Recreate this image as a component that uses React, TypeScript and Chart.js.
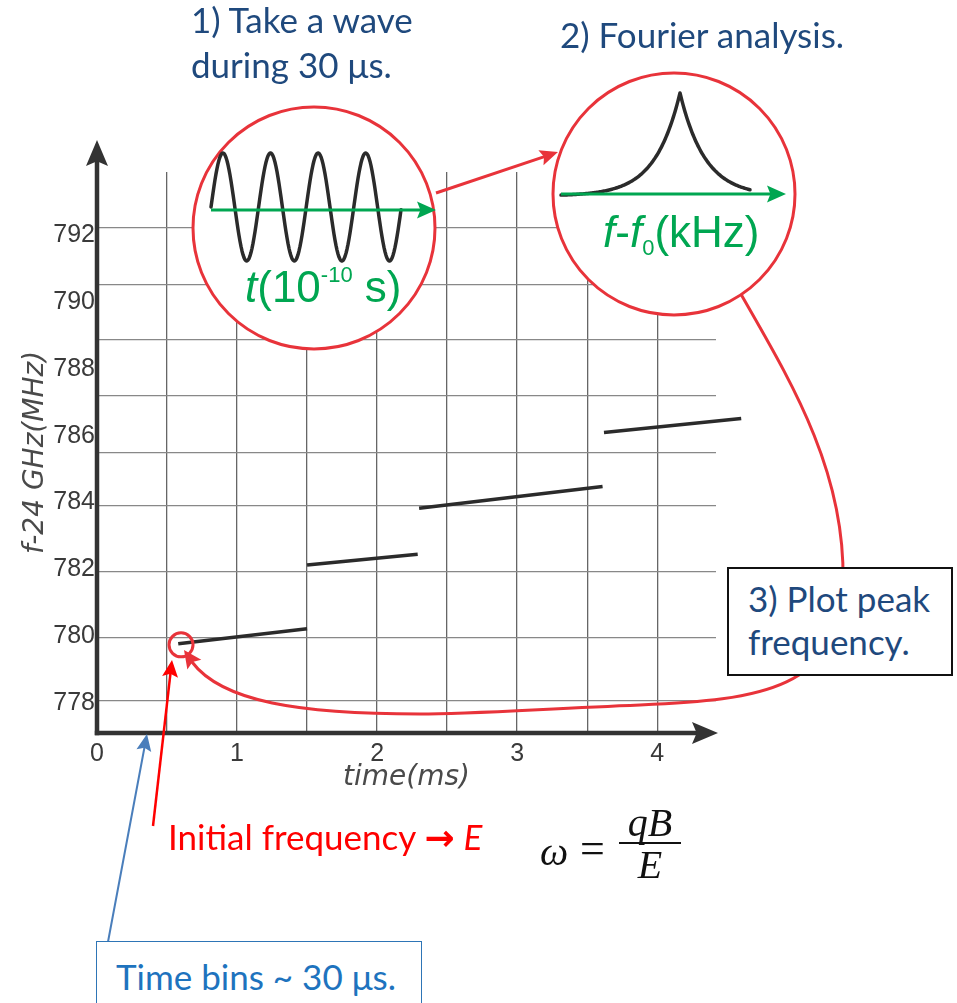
import React, { useEffect, useRef } from "react";
import { Chart, registerables } from "chart.js";

Chart.register(...registerables);

// ---- data ----
const timeGridTicks = [0, 0.5, 1, 1.5, 2, 2.5, 3, 3.5, 4]; // ms
const freqTickLabels = [778, 780, 782, 784, 786, 788, 790, 792]; // MHz
const freqGridLevels = [778.06, 779.95, 781.92, 783.9, 785.51, 787.19, 788.87, 790.54, 792.22];
const segStartTime = [0.58, 1.5, 2.3, 3.62];
const segEndTime = [1.5, 2.29, 3.61, 4.6];
const segStartFreq = [779.77, 782.13, 783.83, 786.1];
const segEndFreq = [780.22, 782.45, 784.48, 786.52];
const initialTime = 0.6;
const initialFreq = 779.74;

const RED = "#E8333A";
const GREEN = "#00A651";
const DARK = "#2b2b2b";
const NAVY = "#1F497D";

function arrowHead(ctx: CanvasRenderingContext2D, fx: number, fy: number, tx: number, ty: number, len: number, half: number, color: string) {
  const dx = tx - fx, dy = ty - fy;
  const d = Math.hypot(dx, dy);
  const ux = dx / d, uy = dy / d;
  const bx = tx - ux * len, by = ty - uy * len;
  const px = -uy, py = ux;
  ctx.beginPath();
  ctx.moveTo(tx, ty);
  ctx.lineTo(bx + px * half, by + py * half);
  ctx.lineTo(tx - ux * len * 0.82, ty - uy * len * 0.82);
  ctx.lineTo(bx - px * half, by - py * half);
  ctx.closePath();
  ctx.fillStyle = color;
  ctx.fill();
}

function arrowLine(ctx: CanvasRenderingContext2D, fx: number, fy: number, tx: number, ty: number, color: string, width: number, len: number, half: number) {
  const d = Math.hypot(tx - fx, ty - fy);
  const ux = (tx - fx) / d, uy = (ty - fy) / d;
  ctx.strokeStyle = color;
  ctx.lineWidth = width;
  ctx.beginPath();
  ctx.moveTo(fx, fy);
  ctx.lineTo(tx - ux * len * 0.75, ty - uy * len * 0.75);
  ctx.stroke();
  arrowHead(ctx, fx, fy, tx, ty, len, half, color);
}

const annotate = {
  id: "annotate",
  afterDatasetsDraw(chart: any) {
    const { ctx, chartArea: ca, scales } = chart;
    const xs = scales.x, ys = scales.y;
    ctx.save();
    ctx.lineCap = "round";
    ctx.lineJoin = "round";

    // red curve from Fourier circle to the initial point
    ctx.strokeStyle = RED;
    ctx.lineWidth = 3;
    ctx.beginPath();
    ctx.moveTo(742, 296);
    ctx.bezierCurveTo(790, 380, 845, 470, 843, 580);
    ctx.bezierCurveTo(843, 690, 760, 700, 640, 705);
    ctx.bezierCurveTo(540, 709, 470, 714, 420, 714);
    ctx.bezierCurveTo(300, 714, 222, 702, 192, 662);
    ctx.stroke();
    arrowHead(ctx, 205, 680, 184, 650, 18, 8.5, RED);

    // small circle on the initial frequency
    const cx = xs.getPixelForValue(initialTime);
    const cy = ys.getPixelForValue(initialFreq);
    ctx.beginPath();
    ctx.arc(cx, cy, 12, 0, Math.PI * 2);
    ctx.lineWidth = 3;
    ctx.strokeStyle = RED;
    ctx.stroke();

    // inset 1: wave
    ctx.beginPath();
    ctx.arc(314, 228, 121, 0, Math.PI * 2);
    ctx.fillStyle = "#ffffff";
    ctx.fill();
    ctx.lineWidth = 3;
    ctx.strokeStyle = RED;
    ctx.stroke();
    ctx.beginPath();
    for (let px = 211; px <= 401; px += 1) {
      const py = 207 - 54 * Math.sin((2 * Math.PI * (px - 211)) / 47.6);
      if (px === 211) ctx.moveTo(px, py); else ctx.lineTo(px, py);
    }
    ctx.strokeStyle = DARK;
    ctx.lineWidth = 3.5;
    ctx.stroke();
    ctx.lineCap = "butt";
    arrowLine(ctx, 211, 210, 436, 210, GREEN, 3, 19, 8.5);

    // inset 2: spectrum
    ctx.lineCap = "round";
    ctx.beginPath();
    ctx.arc(674, 194, 121, 0, Math.PI * 2);
    ctx.fillStyle = "#ffffff";
    ctx.fill();
    ctx.lineWidth = 3;
    ctx.strokeStyle = RED;
    ctx.stroke();
    ctx.beginPath();
    for (let px = 561; px <= 750; px += 1) {
      const py = 196 - 103 * Math.exp(-Math.abs(px - 680) / 25);
      if (px === 561) ctx.moveTo(px, py); else ctx.lineTo(px, py);
    }
    ctx.strokeStyle = DARK;
    ctx.lineWidth = 3.5;
    ctx.stroke();
    ctx.lineCap = "butt";
    arrowLine(ctx, 561, 194, 786, 194, GREEN, 3, 19, 8.5);

    // arrow between insets
    arrowLine(ctx, 436, 193, 558, 152, RED, 3, 18, 8);

    // axes with arrowheads
    ctx.lineCap = "butt";
    ctx.strokeStyle = "#333333";
    ctx.lineWidth = 4.5;
    ctx.beginPath();
    ctx.moveTo(ca.left, ca.bottom + 2.2);
    ctx.lineTo(ca.left, ca.top - 20);
    ctx.stroke();
    arrowHead(ctx, ca.left, ca.top, ca.left, ca.top - 32, 26, 11, "#333333");
    ctx.beginPath();
    ctx.moveTo(ca.left - 2.2, ca.bottom);
    ctx.lineTo(ca.right - 12, ca.bottom);
    ctx.stroke();
    arrowHead(ctx, ca.left, ca.bottom, ca.right + 2, ca.bottom, 26, 11, "#333333");

    // pointer arrows
    arrowLine(ctx, 153, 826, 172, 660, "#FF0000", 2.5, 17, 8);
    arrowLine(ctx, 108, 942, 147, 734, "#4A7EBB", 2, 17, 7.5);

    ctx.restore();
  },
};

const tickFont = { family: "'Liberation Sans', Arial, sans-serif", size: 25 };
const titleFont = { family: "'DejaVu Sans', sans-serif", style: "italic", size: 28, weight: "300" };

export default function App() {
  const ref = useRef<HTMLCanvasElement>(null);

  useEffect(() => {
    const datasets = segStartTime.map((t0, i) => ({
      label: `segment ${i + 1}`,
      data: [
        { x: t0, y: segStartFreq[i] },
        { x: segEndTime[i], y: segEndFreq[i] },
      ],
      showLine: true,
      borderColor: DARK,
      backgroundColor: DARK,
      borderWidth: 3.5,
      pointRadius: 0,
      clip: false as any,
    }));
    const chart = new Chart(ref.current as HTMLCanvasElement, {
      type: "scatter",
      data: { datasets },
      options: {
        animation: false,
        responsive: false,
        events: [],
        layout: { padding: { left: 0, top: 172, right: 241, bottom: 208 } },
        plugins: { legend: { display: false }, tooltip: { enabled: false } },
        scales: {
          x: {
            type: "linear",
            min: 0,
            max: 4.42,
            afterBuildTicks: (s: any) => {
              s.ticks = timeGridTicks.map((v) => ({ value: v }));
            },
            afterFit: (s: any) => {
              s.height = 62;
            },
            ticks: {
              autoSkip: false,
              maxRotation: 0,
              padding: 6,
              color: "#3a3a3a",
              font: tickFont,
              callback: (v: any) => (Number.isInteger(v) ? String(v) : ""),
            },
            grid: {
              drawTicks: false,
              lineWidth: 1.3,
              color: (c: any) => (c.tick && c.tick.value === 0 ? "rgba(0,0,0,0)" : "#666666"),
            },
            border: { display: false },
            title: {
              display: true,
              text: "time(ms)",
              color: "#4a4a4a",
              padding: 0,
              font: titleFont,
            },
          },
          y: {
            type: "linear",
            position: "left",
            min: 777.1,
            max: 793.9,
            afterBuildTicks: (s: any) => {
              s.ticks = freqTickLabels.map((v) => ({ value: v }));
            },
            afterFit: (s: any) => {
              s.width = 97;
            },
            ticks: { padding: 2, color: "#3a3a3a", font: tickFont },
            grid: { display: false, drawTicks: false },
            border: { display: false },
            title: {
              display: true,
              text: "f-24 GHz(MHz)",
              color: "#4a4a4a",
              padding: { top: 19, bottom: 0 },
              font: titleFont,
            },
          },
          yGrid: {
            type: "linear",
            position: "left",
            min: 777.1,
            max: 793.9,
            afterBuildTicks: (s: any) => {
              s.ticks = freqGridLevels.map((v) => ({ value: v }));
            },
            afterFit: (s: any) => {
              s.width = 0;
            },
            ticks: { display: false },
            grid: { drawTicks: false, color: "#888888", lineWidth: 1.3 },
            border: { display: false },
          },
        },
      } as any,
      plugins: [annotate as any],
    });
    return () => chart.destroy();
  }, []);

  const abs = (s: React.CSSProperties): React.CSSProperties => ({
    position: "absolute",
    whiteSpace: "nowrap",
    margin: 0,
    ...s,
  });
  const calibri = "Lato, 'Open Sans', sans-serif";
  const mathFont = "'Liberation Serif', 'DejaVu Serif', serif";

  return (
    <div style={{ position: "absolute", left: 0, top: 0, width: 957, height: 1003, overflow: "hidden", background: "#fff" }}>
      <canvas ref={ref} width={957} height={1003} style={{ position: "absolute", left: 0, top: 0, width: 957, height: 1003 }} />

      <div style={abs({ left: 191, top: -3, fontFamily: calibri, fontSize: 35, lineHeight: "45px", color: NAVY })}>
        1) Take a wave
        <br />
        during 30 μs.
      </div>
      <div style={abs({ left: 560, top: 12, fontFamily: calibri, fontSize: 35, lineHeight: "45px", color: NAVY })}>
        2) Fourier analysis.
      </div>

      <div style={abs({ left: 245, top: 264, fontFamily: "'Liberation Sans', Arial, sans-serif", fontSize: 44, lineHeight: "46px", color: GREEN })}>
        <i>t</i>(10<span style={{ fontSize: 22, position: "relative", top: -20 }}>-10</span> s)
      </div>
      <div style={abs({ left: 603, top: 209, fontFamily: "'Liberation Sans', Arial, sans-serif", fontSize: 44, lineHeight: "46px", color: GREEN })}>
        <i>f</i>-<i>f</i>
        <span style={{ fontSize: 22, position: "relative", top: 8 }}>0</span>(kHz)
      </div>

      <div
        style={abs({
          left: 727,
          top: 567,
          width: 226,
          height: 109,
          boxSizing: "border-box",
          border: "2px solid #111",
          background: "#fff",
          padding: "8px 0 0 19px",
          fontFamily: calibri,
          fontSize: 35,
          lineHeight: "43px",
          color: NAVY,
        })}
      >
        3) Plot peak
        <br />
        frequency.
      </div>

      <div style={abs({ left: 168, top: 815, fontFamily: calibri, fontSize: 35, lineHeight: "42px", color: "#FF0000" })}>
        Initial frequency{" "}
        <span style={{ fontFamily: "'DejaVu Sans', sans-serif", fontWeight: "bold", fontSize: 36 }}>→</span> <i>E</i>
      </div>

      <div style={abs({ left: 540, top: 832, fontFamily: mathFont, fontStyle: "italic", fontSize: 40, lineHeight: "40px", color: "#111" })}>ω</div>
      <div style={abs({ left: 580, top: 827, fontFamily: mathFont, fontSize: 44, lineHeight: "44px", color: "#111" })}>=</div>
      <div style={abs({ left: 618, top: 803, width: 64, textAlign: "center", fontFamily: mathFont, fontStyle: "italic", fontSize: 40, lineHeight: "40px", color: "#111" })}>qB</div>
      <div style={abs({ left: 619, top: 842, width: 62, height: 2, background: "#111" })} />
      <div style={abs({ left: 618, top: 845, width: 64, textAlign: "center", fontFamily: mathFont, fontStyle: "italic", fontSize: 40, lineHeight: "40px", color: "#111" })}>E</div>

      <div
        style={abs({
          left: 96,
          top: 941,
          width: 326,
          height: 90,
          boxSizing: "border-box",
          border: "1.5px solid #2E75B6",
          background: "#fff",
          padding: "13px 0 0 19px",
          fontFamily: calibri,
          fontSize: 35,
          lineHeight: "42px",
          color: "#1E73BE",
        })}
      >
        Time bins ~ 30 μs.
      </div>
    </div>
  );
}
